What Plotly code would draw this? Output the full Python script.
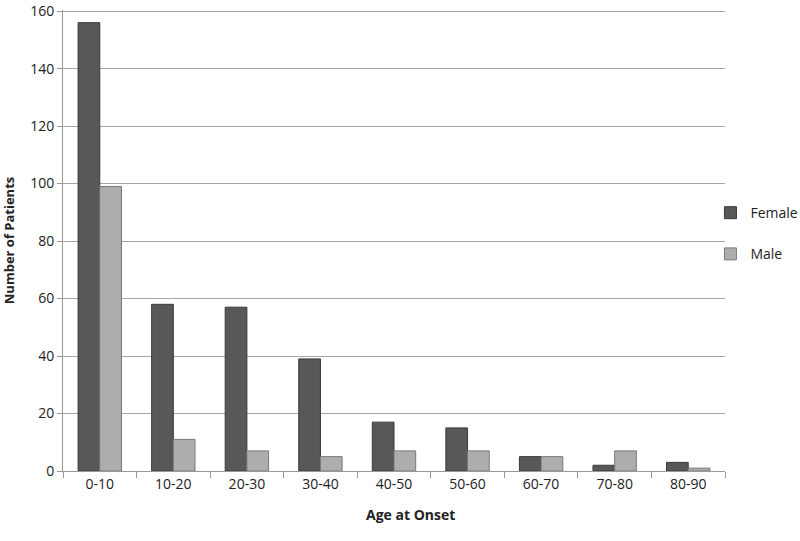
import plotly.graph_objects as go

categories = ["0-10", "10-20", "20-30", "30-40", "40-50", "50-60", "60-70", "70-80", "80-90"]
female = [156, 58, 57, 39, 17, 15, 5, 2, 3]
male = [99, 11, 7, 5, 7, 7, 5, 7, 1]

FONT = "Open Sans, Liberation Sans, sans-serif"

fig = go.Figure()
fig.add_trace(go.Bar(x=categories, y=female, name="Female", legendgroup="f",
                     marker=dict(color="#585858", line=dict(color="#3a3a3a", width=1))))
fig.add_trace(go.Bar(x=categories, y=male, name="Male", legendgroup="m",
                     marker=dict(color="#adadad", line=dict(color="#7a7a7a", width=1))))

fig.update_layout(
    width=800, height=541,
    margin=dict(l=63, r=75, t=10, b=70, autoexpand=False),
    paper_bgcolor="white", plot_bgcolor="white",
    barmode="group", bargap=0.41, bargroupgap=0,
    font=dict(family=FONT, size=14, color="#222"),
    showlegend=True,
    legend=dict(x=0.978, y=0.515, xanchor="left", yanchor="middle",
                font=dict(size=14, color="#222"), tracegroupgap=20,
                itemwidth=30, bgcolor="rgba(0,0,0,0)"),
    xaxis=dict(type="category", tickson="boundaries", ticks="outside", ticklen=6,
               tickcolor="#999", showline=True, linecolor="#999", linewidth=1,
               tickfont=dict(size=14, color="#222"), showgrid=False),
    yaxis=dict(range=[0, 160.4], tickvals=[0, 20, 40, 60, 80, 100, 120, 140, 160],
               ticks="outside", ticklen=5, tickcolor="#999", ticklabeloverflow="allow",
               showline=True, linecolor="#999", linewidth=1,
               showgrid=True, gridcolor="#a6a6a6", gridwidth=1,
               tickfont=dict(size=14, color="#222"), zeroline=False,
               title=dict(text="<b>Number of Patients</b>", font=dict(size=13, color="#222"), standoff=20)),
)
fig.add_annotation(text="<b>Age at Onset</b>", x=0.525, y=-0.094, xref="paper", yref="paper",
                   showarrow=False, xanchor="center", yanchor="middle",
                   font=dict(size=14, color="#222"))

fig.write_html("out.html", config={"displayModeBar": False},
               post_script="document.body.style.margin='0';")
